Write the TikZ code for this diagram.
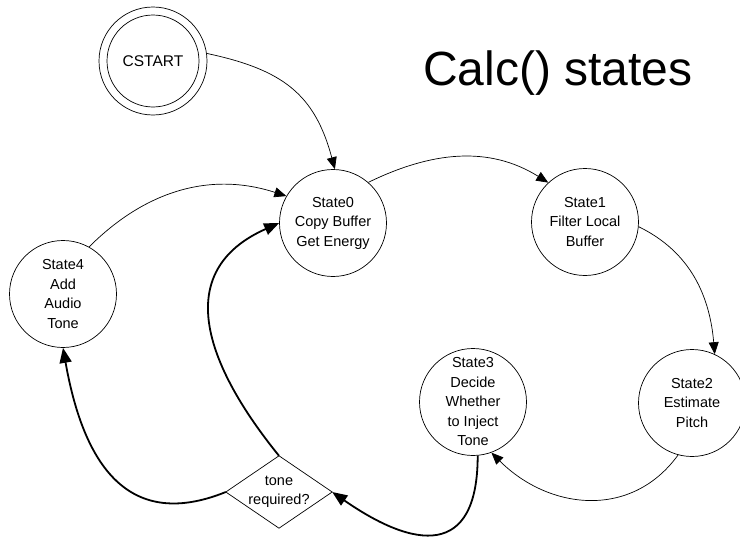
\documentclass[tikz,border=0pt]{standalone}
\usepackage{fontspec}
\setmainfont{Liberation Sans}
\usetikzlibrary{arrows.meta}
\begin{document}
\begin{tikzpicture}[x=1pt,y=1pt,
  statebox/.style={circle, draw, line width=0.7pt, minimum size=107pt, inner sep=0pt,
    align=center, font=\fontsize{14.5}{19.5}\selectfont},
  thinflow/.style={line width=0.7pt, -{Triangle[length=12pt,width=10pt]}},
  thickflow/.style={line width=1.8pt, -{Triangle[length=15pt,width=12pt]}}]
\useasboundingbox (0,0) rectangle (740,-538);

% title
\node[anchor=base west, inner sep=0pt, font=\fontsize{48}{58}\selectfont] (title) at (423,-85) {Calc() states};

% start state (double ring)
\node[statebox, minimum size=108pt, font=\fontsize{15.5}{19.5}\selectfont] (cstart) at (153,-61) {CSTART};
\draw[line width=0.7pt] (cstart.center) circle[radius=46pt];

% states
\node[statebox] (s0) at (333,-223) {State0\\Copy Buffer\\Get Energy};
\node[statebox] (s1) at (585,-222) {State1\\Filter Local\\Buffer};
\node[statebox] (s2) at (692,-403) {State2\\Estimate\\Pitch};
\node[statebox] (s3) at (473,-402) {State3\\Decide\\Whether\\to Inject\\Tone};
\node[statebox] (s4) at (63,-294) {State4\\Add\\Audio\\Tone};

% decision diamond
\node[rectangle, minimum width=106pt, minimum height=72pt, inner sep=0pt, align=center,
  font=\fontsize{14.5}{19}\selectfont] (dec) at (279,-492) {tone\\required?};
\draw[line width=0.7pt] (dec.north) -- (dec.east) -- (dec.south) -- (dec.west) -- cycle;

% transitions
\draw[thinflow] (cstart.8) to[out=-12, in=105, looseness=1.15] (s0.88);
\draw[thinflow] (s0.49) to[out=26, in=148] (s1.133);
\draw[thinflow] (s1.-5) to[out=-26, in=95] (s2.65);
\draw[thinflow] (s2.-105) to[out=-126, in=-45, looseness=1.1] (s3.-70);
\draw[thickflow] (s3.-85) .. controls +(0,-103) and +(82,-57) .. (dec.east);
\draw[thickflow] (dec.north) to[out=129, in=204, looseness=1.3] (s0.west);
\draw[thickflow] (dec.west) to[out=202, in=-80, looseness=1.3] (s4.south);
\draw[thinflow] (s4.61) to[out=45, in=162] (s0.150);
\end{tikzpicture}
\end{document}
